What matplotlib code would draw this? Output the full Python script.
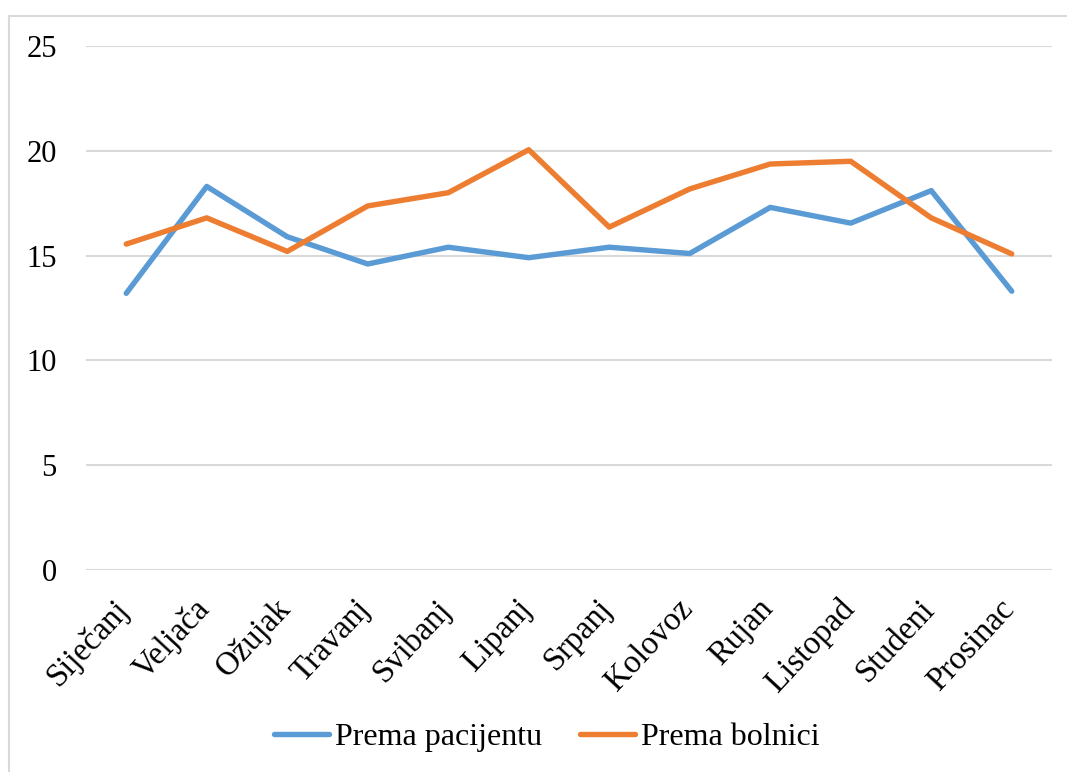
import matplotlib.pyplot as plt
import matplotlib.transforms as mtransforms
from matplotlib.patches import Rectangle

months = ["Siječanj", "Veljača", "Ožujak", "Travanj", "Svibanj", "Lipanj",
          "Srpanj", "Kolovoz", "Rujan", "Listopad", "Studeni", "Prosinac"]
prema_pacijentu = [13.2, 18.3, 15.9, 14.6, 15.4, 14.9, 15.4, 15.1, 17.3, 16.55, 18.1, 13.3]
prema_bolnici = [15.55, 16.8, 15.2, 17.37, 18.0, 20.05, 16.36, 18.18, 19.37, 19.5, 16.8, 15.08]
y_ticks = [0, 5, 10, 15, 20, 25]

BLUE = "#5B9BD5"
ORANGE = "#ED7D31"
GRID = "#D9D9D9"
FS = 22

plt.rcParams["font.family"] = ["Liberation Serif", "DejaVu Serif"]

W, H = 1067, 772
fig = plt.figure(figsize=(W / 100, H / 100), dpi=100)
ax = fig.add_axes([86 / W, 1 - 570 / H, (1052 - 86) / W, (570 - 46) / H])

# outer chart border (only top and left are visible in the crop)
fig.patches.append(Rectangle((9 / W, -0.05), 1.1, 1 + 0.05 - 16 / H,
                             transform=fig.transFigure, fill=False,
                             edgecolor="#D9D9D9", linewidth=1.5))

x = range(len(months))
ax.plot(x, prema_pacijentu, color=BLUE, linewidth=3.9, label="Prema pacijentu",
        solid_joinstyle="round", solid_capstyle="round")
ax.plot(x, prema_bolnici, color=ORANGE, linewidth=3.9, label="Prema bolnici",
        solid_joinstyle="round", solid_capstyle="round")

ax.set_xlim(-0.5, len(months) - 0.5)
ax.set_ylim(0, 25)
ax.set_yticks(y_ticks)
ax.set_xticks(list(x))
ax.set_xticklabels(months, rotation=47, ha="right", rotation_mode="anchor")
ax.tick_params(axis="y", length=0, labelsize=FS, pad=21)
ax.tick_params(axis="x", length=0, labelsize=23.5, pad=17)
shift = mtransforms.ScaledTranslation(-13 / 100, 0, fig.dpi_scale_trans)
for lab in ax.get_xticklabels():
    lab.set_transform(lab.get_transform() + shift)
ax.grid(axis="y", color=GRID, linewidth=1.5)
ax.set_axisbelow(True)
for s in ax.spines.values():
    s.set_visible(False)

fig.legend(loc="center", bbox_to_anchor=(547 / W, 1 - 737 / H), ncol=2, frameon=False,
           fontsize=23, handlelength=1.7, handletextpad=0.2, columnspacing=1.2)

fig.savefig("out.png", dpi=100, facecolor="white")
